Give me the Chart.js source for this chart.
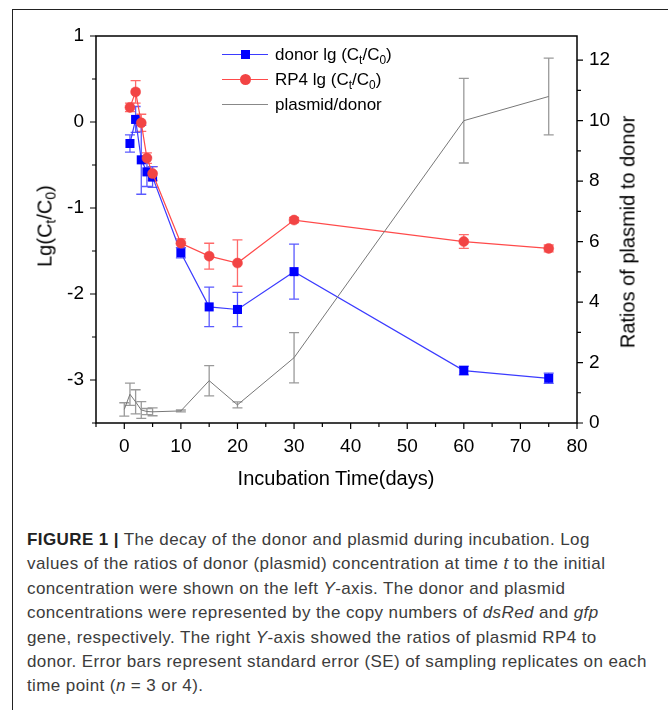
<!DOCTYPE html>
<html>
<head>
<meta charset="utf-8">
<script src="https://cdn.jsdelivr.net/npm/chart.js@4.4.1/dist/chart.umd.min.js"></script>
<style>
  body { margin: 0; background: #fff; font-family: "Liberation Sans", Arial, sans-serif; }
  #wrap { position: relative; width: 668px; height: 710px; overflow: hidden; }
  #box { position: absolute; left: 12px; top: 9px; width: 700px; height: 720px;
         border-left: 1px solid #222; border-top: 1px solid #222; }
  canvas { position: absolute; left: 0; top: 0; }
  .ttl { position: absolute; font-size: 20px; color: #000; white-space: nowrap; }
  .rot { transform: translate(-50%, -50%) rotate(-90deg); }
  sub { font-size: 70%; vertical-align: -0.3em; line-height: 0; }
  #legend { position: absolute; left: 222px; top: 42px; font-size: 17px; color: #000; }
  .row { position: relative; height: 25px; line-height: 25px; padding-left: 53px; white-space: nowrap; }
  .ln { position: absolute; left: 0; top: 12px; width: 46px; height: 1px; }
  .mk { position: absolute; }
  #caption { position: absolute; left: 27px; top: 528px; font-size: 17px; letter-spacing: 0.4px;
             line-height: 24.4px; color: #3c3c3c; white-space: nowrap; }
  #caption b { color: #222; }
</style>
</head>
<body>
<div id="wrap">
  <div id="box"></div>
  <canvas id="chart" width="668" height="500"></canvas>

  <div class="ttl rot" style="left:45px; top:226px;">Lg(C<sub>t</sub>/C<sub>0</sub>)</div>
  <div class="ttl rot" style="left:628px; top:232px;">Ratios of plasmid to donor</div>
  <div class="ttl" style="left:336px; top:478px; transform: translate(-50%, -50%);">Incubation Time(days)</div>

  <div id="legend">
    <div class="row"><span class="ln" style="background:#3b3bff"></span>
      <span class="mk" style="left:19px; top:8px; width:9px; height:9px; background:#0000ff"></span>donor lg (C<sub>t</sub>/C<sub>0</sub>)</div>
    <div class="row"><span class="ln" style="background:#ff4a4a"></span>
      <span class="mk" style="left:18px; top:7px; width:11px; height:11px; border-radius:50%; background:#f24444"></span>RP4 lg (C<sub>t</sub>/C<sub>0</sub>)</div>
    <div class="row"><span class="ln" style="background:#888"></span>plasmid/donor</div>
  </div>

  <div id="caption">
    <b>FIGURE 1 |</b> The decay of the donor and plasmid during incubation. Log<br>
    values of the ratios of donor (plasmid) concentration at time <i>t</i> to the initial<br>
    concentration were shown on the left <i>Y</i>-axis. The donor and plasmid<br>
    concentrations were represented by the copy numbers of <i>dsRed</i> and <i>gfp</i><br>
    gene, respectively. The right <i>Y</i>-axis showed the ratios of plasmid RP4 to<br>
    donor. Error bars represent standard error (SE) of sampling replicates on each<br>
    time point (<i>n</i> = 3 or 4).
  </div>
</div>

<script>
// ---------- data ----------
const lgDays   = [1, 2, 3, 4, 5, 10, 15, 20, 30, 60, 75];
const donorLg  = [-0.25, 0.03, -0.44, -0.58, -0.64, -1.52, -2.15, -2.18, -1.74, -2.89, -2.98];
const donorSE  = [0.10, 0.15, 0.40, 0.17, 0.12, 0.06, 0.23, 0.20, 0.32, 0.05, 0.06];
const rp4Lg    = [0.17, 0.35, -0.01, -0.42, -0.60, -1.41, -1.56, -1.64, -1.14, -1.39, -1.47];
const rp4SE    = [0.05, 0.13, 0.10, 0.06, 0.08, 0.05, 0.15, 0.27, 0.03, 0.08, 0.04];

const ratioDays = [0, 1, 2, 3, 4, 5, 10, 15, 20, 30, 60, 75];
const ratio     = [0.45, 0.95, 0.70, 0.43, 0.38, 0.37, 0.40, 1.40, 0.60, 2.16, 10.0, 10.8];
const ratioSE   = [0.22, 0.37, 0.40, 0.28, 0.10, 0.13, 0.03, 0.50, 0.10, 0.83, 1.40, 1.27];

const xTicks  = [0, 10, 20, 30, 40, 50, 60, 70, 80];
const yTicks  = [-3, -2, -1, 0, 1];
const y2Ticks = [0, 2, 4, 6, 8, 10, 12];

const FONT = { family: "Liberation Sans, Arial, sans-serif", size: 19 };

function pts(xs, ys) { return xs.map((x, i) => ({ x: x, y: ys[i] })); }

// ---------- error bars ----------
const errorBars = {
  id: "errorBars",
  beforeDatasetsDraw(chart) {
    const ctx = chart.ctx;
    chart.data.datasets.forEach((ds, i) => {
      if (!ds.se) return;
      const meta = chart.getDatasetMeta(i);
      const sc = chart.scales[ds.yAxisID];
      ctx.save();
      ctx.strokeStyle = ds.errColor;
      ctx.lineWidth = 1.3;
      meta.data.forEach((p, j) => {
        const v = ds.data[j].y, e = ds.se[j];
        const t = sc.getPixelForValue(v + e), b = sc.getPixelForValue(v - e);
        ctx.beginPath();
        ctx.moveTo(p.x, t); ctx.lineTo(p.x, b);
        ctx.moveTo(p.x - 5, t); ctx.lineTo(p.x + 5, t);
        ctx.moveTo(p.x - 5, b); ctx.lineTo(p.x + 5, b);
        ctx.stroke();
      });
      ctx.restore();
    });
  }
};

// ---------- frame and ticks ----------
const frame = {
  id: "frame",
  afterDraw(chart) {
    const ctx = chart.ctx, a = chart.chartArea;
    const x = chart.scales.x, y = chart.scales.y, y2 = chart.scales.y2;
    ctx.save();
    ctx.strokeStyle = "#000";
    ctx.lineWidth = 1.5;
    ctx.strokeRect(a.left, a.top, a.right - a.left, a.bottom - a.top);
    ctx.lineWidth = 1.2;
    ctx.beginPath();
    for (let v = -5; v <= 80; v += 5) {
      const px = x.getPixelForValue(v), len = v % 10 === 0 ? 6 : 4;
      ctx.moveTo(px, a.bottom); ctx.lineTo(px, a.bottom + len);
    }
    for (let v = -3.5; v <= 1; v += 0.5) {
      const py = y.getPixelForValue(v), len = Number.isInteger(v) ? 6 : 4;
      ctx.moveTo(a.left, py); ctx.lineTo(a.left - len, py);
    }
    for (let v = 0; v <= 12; v += 1) {
      const py = y2.getPixelForValue(v), len = v % 2 === 0 ? 6 : 4;
      ctx.moveTo(a.right, py); ctx.lineTo(a.right + len, py);
    }
    ctx.stroke();
    ctx.restore();
  }
};

function fixedTicks(list) {
  return function (scale) { scale.ticks = list.map(v => ({ value: v })); };
}

new Chart(document.getElementById("chart"), {
  type: "line",
  data: {
    datasets: [
      {
        label: "plasmid/donor",
        data: pts(ratioDays, ratio),
        se: ratioSE, errColor: "#9a9a9a",
        yAxisID: "y2",
        borderColor: "#777", borderWidth: 1,
        pointRadius: 0, tension: 0
      },
      {
        label: "RP4 lg (Ct/C0)",
        data: pts(lgDays, rp4Lg),
        se: rp4SE, errColor: "#ff6a6a",
        yAxisID: "y",
        borderColor: "#ff4a4a", borderWidth: 1.2,
        pointStyle: "circle", pointRadius: 5,
        pointBackgroundColor: "#f24444", pointBorderColor: "#f24444", pointBorderWidth: 0.5,
        tension: 0
      },
      {
        label: "donor lg (Ct/C0)",
        data: pts(lgDays, donorLg),
        se: donorSE, errColor: "#5a5aff",
        yAxisID: "y",
        borderColor: "#3b3bff", borderWidth: 1.2,
        pointStyle: "rect", pointRadius: 6.4,
        pointBackgroundColor: "#0000ff", pointBorderColor: "#0000ff", pointBorderWidth: 0,
        tension: 0
      }
    ]
  },
  options: {
    responsive: false,
    animation: false,
    clip: false,
    layout: { padding: { top: 36, left: 0, right: 0, bottom: 0 } },
    plugins: { legend: { display: false }, tooltip: { enabled: false } },
    scales: {
      x: {
        type: "linear", min: -5, max: 80,
        afterBuildTicks: fixedTicks(xTicks),
        afterFit(scale) { scale.height = 77; },
        grid: { display: false, drawTicks: false }, border: { display: false },
        ticks: { color: "#000", font: FONT, padding: 12, maxRotation: 0 }
      },
      y: {
        type: "linear", position: "left", min: -3.5, max: 1,
        afterBuildTicks: fixedTicks(yTicks),
        afterFit(scale) { scale.width = 96; },
        grid: { display: false, drawTicks: false }, border: { display: false },
        ticks: { color: "#000", font: FONT, padding: 12 }
      },
      y2: {
        type: "linear", position: "right", min: 0, max: 12.8,
        afterBuildTicks: fixedTicks(y2Ticks),
        afterFit(scale) { scale.width = 91; },
        grid: { display: false, drawTicks: false }, border: { display: false },
        ticks: { color: "#000", font: FONT, padding: 12 }
      }
    }
  },
  plugins: [errorBars, frame]
});
</script>
</body>
</html>
